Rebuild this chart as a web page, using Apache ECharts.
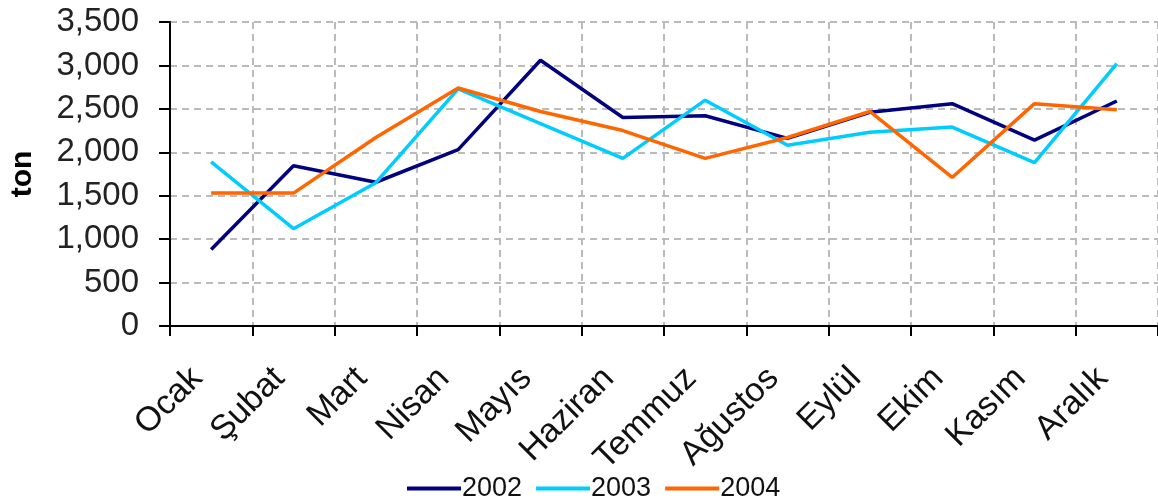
<!DOCTYPE html>
<html>
<head>
<meta charset="utf-8">
<script src="https://cdn.jsdelivr.net/npm/echarts@6/dist/echarts.min.js"></script>
<style>
  html, body { margin: 0; padding: 0; background: #fff; }
  #chart { width: 1158px; height: 502px; }
</style>
</head>
<body>
<div id="chart"></div>
<script>
var months = ['Ocak', 'Şubat', 'Mart', 'Nisan', 'Mayıs', 'Haziran', 'Temmuz', 'Ağustos', 'Eylül', 'Ekim', 'Kasım', 'Aralık']
var y2002 = [880, 1845, 1655, 2030, 3060, 2400, 2420, 2160, 2460, 2560, 2140, 2590]
var y2003 = [1890, 1120, 1650, 2730, 2330, 1930, 2600, 2080, 2230, 2290, 1880, 3020]
var y2004 = [1530, 1530, 2170, 2740, 2470, 2250, 1930, 2170, 2470, 1710, 2560, 2490]
var seriesNames = ['2002', '2003', '2004']
var colors = ['#000080', '#00ccff', '#ff6600']

var chart = echarts.init(document.getElementById('chart'))
var font = 'Liberation Sans, Arial, sans-serif'

var series = [y2002, y2003, y2004].map(function (d, i) {
  return {
    name: seriesNames[i],
    type: 'line',
    data: d,
    symbol: 'none',
    lineStyle: { width: 3.5, color: colors[i] },
    itemStyle: { color: colors[i] }
  }
})

chart.setOption({
  animation: false,
  textStyle: { fontFamily: font },
  grid: { left: 170, right: -3, top: 22, bottom: 176 },
  legend: {
    data: seriesNames,
    bottom: -5,
    left: 402,
    itemWidth: 54,
    itemHeight: 4,
    itemGap: 14,
    icon: 'rect',
    textStyle: { fontSize: 27, color: '#111', padding: [0, 0, 0, -4] }
  },
  xAxis: {
    type: 'category',
    data: months,
    boundaryGap: true,
    axisLine: { lineStyle: { color: '#000', width: 2 } },
    axisTick: { show: true, length: 10, lineStyle: { color: '#000', width: 2 } },
    axisLabel: { rotate: 45, fontSize: 34, color: '#111', margin: 33, padding: [0, 20, 0, 0], interval: 0 },
    splitLine: { show: true, lineStyle: { color: '#bbb', type: [7, 5], width: 2 } }
  },
  yAxis: {
    type: 'value',
    min: 0,
    max: 3500,
    interval: 500,
    name: 'ton',
    nameLocation: 'middle',
    nameGap: 132,
    nameRotate: 90,
    nameTextStyle: { fontSize: 30, fontWeight: 'bold', color: '#000' },
    axisLine: { show: true, lineStyle: { color: '#000', width: 2 } },
    axisTick: { show: true, length: 11, lineStyle: { color: '#000', width: 2 } },
    axisLabel: {
      fontSize: 33, color: '#222', margin: 31,
      formatter: function (v) { return v.toLocaleString('en-US') }
    },
    splitLine: { show: true, lineStyle: { color: '#bbb', type: [7, 5], width: 2 } }
  },
  series: series
})
</script>
</body>
</html>
